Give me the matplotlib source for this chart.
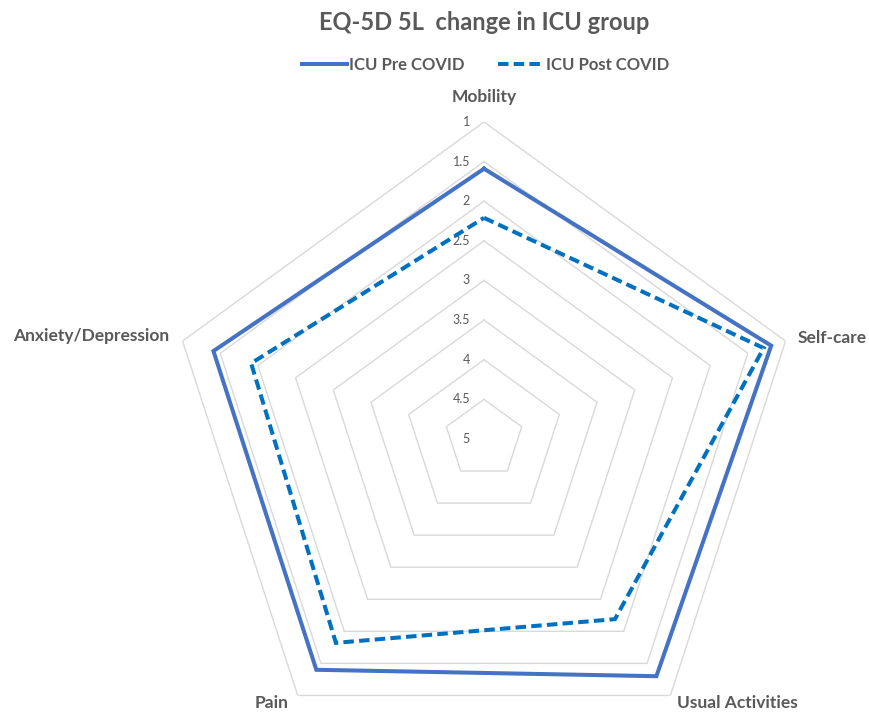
import numpy as np
import matplotlib.pyplot as plt

plt.rcParams['font.family'] = ['Lato', 'DejaVu Sans']

categories = ['Mobility', 'Self-care', 'Usual Activities', 'Pain', 'Anxiety/Depression']
pre_covid = [1.59, 1.19, 1.30, 1.40, 1.41]
post_covid = [2.21, 1.29, 2.19, 1.82, 1.91]
ticks = [1, 1.5, 2, 2.5, 3, 3.5, 4, 4.5, 5]
tick_labels = ['1', '1.5', '2', '2.5', '3', '3.5', '4', '4.5', '5']

gray = '#595959'
vmax = 5  # axis reversed: 5 at the centre, 1 on the outside

fig = plt.figure(figsize=(8.69, 7.14), dpi=100)
ax = fig.add_axes([0.1922, -0.0588, 0.7296, 0.888], projection='polar')
ax.set_theta_offset(np.pi / 2)
ax.set_theta_direction(-1)
ax.set_ylim(0, vmax - ticks[0])
ax.grid(False)
ax.spines['polar'].set_visible(False)
ax.set_xticks([])
ax.set_yticks([])

n = len(categories)
theta = np.linspace(0, 2 * np.pi, n, endpoint=False)
theta_c = np.append(theta, theta[0])

# pentagon gridlines
for t in ticks[:-1]:
    r = vmax - t
    ax.plot(theta_c, [r] * (n + 1), color='#d9d9d9', lw=1.0, zorder=1)

# tick labels along the top spoke
for t, lab in zip(ticks, tick_labels):
    ax.annotate(lab, (0, vmax - t), xytext=(-14, 0), textcoords='offset pixels',
                ha='right', va='center', fontsize=9, color=gray)

def close(v):
    r = [vmax - x for x in v]
    return r + [r[0]]

l1, = ax.plot(theta_c, close(pre_covid), color='#4472C4', lw=2.9,
              solid_joinstyle='miter', zorder=3, label='ICU Pre COVID')
l2, = ax.plot(theta_c, close(post_covid), color='#0070C0', lw=2.9,
              linestyle=(0, (2.6, 1.3)), dash_joinstyle='miter', zorder=4,
              label='ICU Post COVID')

# category labels
offsets = [(0, 25, 'center'), (12, 3, 'left'), (7, -8, 'left'),
           (-9, -8, 'right'), (-13, 5, 'right')]
for th, lab, (dx, dy, ha) in zip(theta, categories, offsets):
    ax.annotate(lab, (th, vmax - ticks[0]), xytext=(dx, dy), textcoords='offset pixels',
                ha=ha, va='center', fontsize=12.5, fontweight='bold', color=gray,
                annotation_clip=False)

fig.text(0.557, 1 - 22 / 714, 'EQ-5D 5L  change in ICU group', ha='center', va='center',
         fontsize=17, fontweight='bold', color=gray)

leg = fig.legend(handles=[l1, l2], loc='center', bbox_to_anchor=(485.5 / 869, 1 - 65 / 714),
                 ncol=2, frameon=False, handlelength=2.7, handletextpad=0.15,
                 columnspacing=2.0, prop={'size': 12, 'weight': 'bold'})
for txt in leg.get_texts():
    txt.set_color(gray)

fig.savefig('out.png', dpi=100)
